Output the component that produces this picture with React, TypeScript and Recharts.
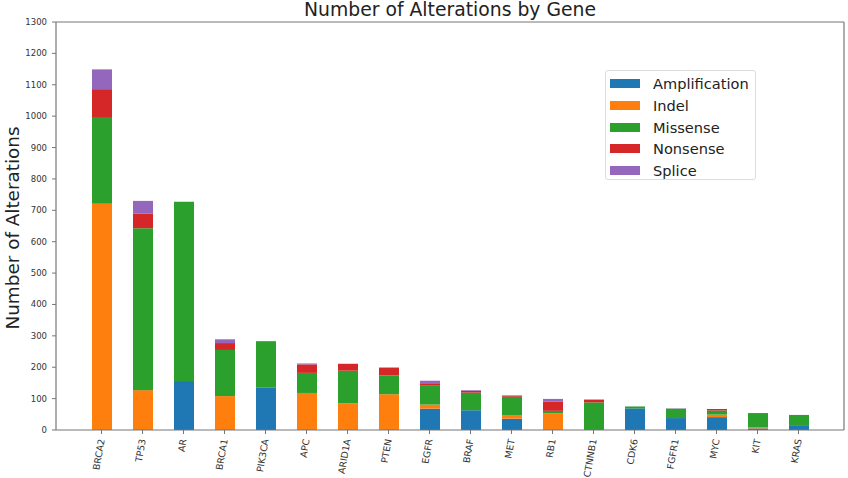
import { BarChart, Bar, XAxis, YAxis, Legend } from 'recharts'

const genes = ['BRCA2', 'TP53', 'AR', 'BRCA1', 'PIK3CA', 'APC', 'ARID1A', 'PTEN', 'EGFR', 'BRAF', 'MET', 'RB1', 'CTNNB1', 'CDK6', 'FGFR1', 'MYC', 'KIT', 'KRAS']
const amplification = [0, 0, 156, 0, 136, 0, 0, 0, 68, 63, 36, 0, 0, 69, 38, 41, 5, 13]
const indel = [721, 127, 0, 108, 0, 118, 85, 114, 13, 0, 10, 53, 0, 0, 0, 8, 3, 0]
const missense = [276, 516, 571, 147, 147, 64, 104, 60, 60, 56, 60, 8, 88, 6, 30, 13, 46, 35]
const nonsense = [89, 46, 0, 22, 0, 27, 22, 25, 8, 6, 4, 29, 9, 0, 0, 5, 0, 0]
const splice = [63, 41, 0, 12, 0, 3, 0, 0, 8, 2, 0, 9, 0, 0, 1, 0, 0, 0]
const yTicks = [0, 100, 200, 300, 400, 500, 600, 700, 800, 900, 1000, 1100, 1200, 1300]

const SERIES = [
  { key: 'Amplification', color: '#1f77b4' },
  { key: 'Indel', color: '#ff7f0e' },
  { key: 'Missense', color: '#2ca02c' },
  { key: 'Nonsense', color: '#d62728' },
  { key: 'Splice', color: '#9467bd' },
]

const data = genes.map((gene, i) => ({
  gene,
  Amplification: amplification[i],
  Indel: indel[i],
  Missense: missense[i],
  Nonsense: nonsense[i],
  Splice: splice[i],
}))

const FONT = '"DejaVu Sans", sans-serif'
const AXIS = '#777'

function GeneTick({ x, y, payload }: any) {
  return (
    <text
      x={x}
      y={y}
      dy="0.35em"
      transform={`rotate(-80, ${x}, ${y})`}
      textAnchor="end"
      fontSize={9.4}
      fill="#333"
      fontFamily={FONT}
    >
      {payload.value}
    </text>
  )
}

function LegendBox() {
  return (
    <div
      style={{
        width: 151,
        height: 110,
        border: '1px solid #ddd',
        borderRadius: 3,
        background: '#fff',
        boxSizing: 'border-box',
        padding: '2px 0 0 4px',
        fontFamily: FONT,
      }}
    >
      {SERIES.map((s) => (
        <div key={s.key} style={{ display: 'flex', alignItems: 'center', height: 21.7 }}>
          <span style={{ width: 30, height: 9, background: s.color, display: 'inline-block' }} />
          <span style={{ marginLeft: 13, fontSize: 14.6, color: '#222' }}>{s.key}</span>
        </div>
      ))}
    </div>
  )
}

export default function App() {
  return (
    <div style={{ position: 'absolute', left: 0, top: 0, width: 848, height: 478, background: '#fff' }}>
      <div
        style={{
          position: 'absolute',
          left: 56,
          width: 788,
          top: -2,
          textAlign: 'center',
          fontFamily: FONT,
          fontSize: 18.8,
          color: '#222',
          lineHeight: '24px',
        }}
      >
        Number of Alterations by Gene
      </div>
      <div
        style={{
          position: 'absolute',
          left: 12,
          top: 228,
          transform: 'translate(-50%, -50%) rotate(-90deg)',
          fontFamily: FONT,
          fontSize: 18.4,
          color: '#222',
          whiteSpace: 'nowrap',
        }}
      >
        Number of Alterations
      </div>
      <BarChart
        width={848}
        height={478}
        data={data}
        margin={{ top: 21, right: 3, bottom: 0, left: 0 }}
        style={{ position: 'absolute', left: 0, top: 0 }}
      >
        <XAxis
          dataKey="gene"
          height={48}
          interval={0}
          padding={{ left: 25, right: 25 }}
          tick={<GeneTick />}
          tickSize={4}
          tickMargin={5}
          axisLine={{ stroke: AXIS, strokeWidth: 1.2 }}
          tickLine={{ stroke: AXIS }}
        />
        <XAxis
          xAxisId="top"
          orientation="top"
          dataKey="gene"
          height={1}
          tick={false}
          tickLine={false}
          axisLine={{ stroke: AXIS, strokeWidth: 1.2 }}
        />
        <YAxis
          width={56}
          domain={[0, 1300]}
          ticks={yTicks}
          interval={0}
          tickSize={4}
          tickMargin={5}
          tick={{ fontSize: 8.5, fill: '#333', fontFamily: FONT }}
          axisLine={{ stroke: AXIS, strokeWidth: 1.2 }}
          tickLine={{ stroke: AXIS }}
        />
        <YAxis
          yAxisId="right"
          orientation="right"
          domain={[0, 1300]}
          width={1}
          tick={false}
          tickLine={false}
          axisLine={{ stroke: AXIS, strokeWidth: 1.2 }}
        />
        <Legend
          layout="vertical"
          align="center"
          verticalAlign="middle"
          content={() => <LegendBox />}
          wrapperStyle={{ left: 605, top: 70, width: 151, height: 110 }}
        />
        {SERIES.map((s) => (
          <Bar key={s.key} dataKey={s.key} stackId="a" fill={s.color} barSize={20} isAnimationActive={false} />
        ))}
      </BarChart>
    </div>
  )
}
